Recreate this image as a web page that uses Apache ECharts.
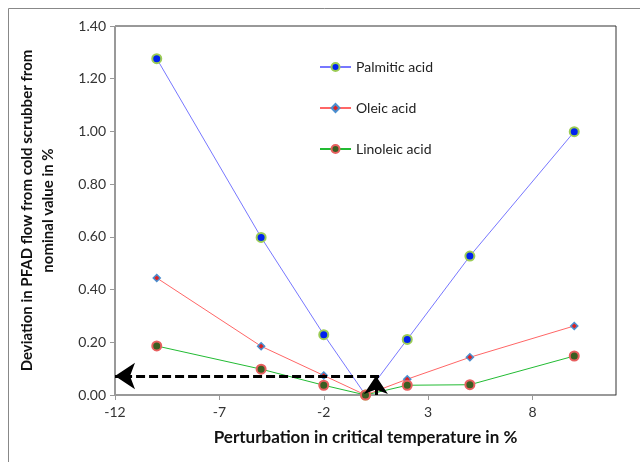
<!DOCTYPE html>
<html><head><meta charset="utf-8">
<script src="https://cdn.jsdelivr.net/npm/echarts@6/dist/echarts.min.js"></script>
<style>html,body{margin:0;padding:0;background:#fff}#c{width:640px;height:462px}</style>
</head><body><div id="c"></div>
<script>
const xValues = [-10, -5, -2, 0, 2, 5, 10];
const palmitic = [1.276, 0.598, 0.229, 0.0, 0.211, 0.527, 0.999];
const oleic = [0.444, 0.185, 0.074, 0.0, 0.060, 0.143, 0.262];
const linoleic = [0.186, 0.098, 0.037, 0.0, 0.037, 0.039, 0.148];
const seriesNames = ['Palmitic acid', 'Oleic acid', 'Linoleic acid'];
const xTitle = 'Perturbation in critical temperature in %';
const yTitle = 'Deviation in PFAD flow from cold scrubber from\nnominal value in %';
const hArrow = [[0.65, 0.072], [-12, 0.072]];
const vArrow = [[0.5, 0.0], [0.5, 0.072]];

const font = 'Lato, "Open Sans", sans-serif';
const pairs = v => xValues.map((x, i) => [x, v[i]]);
const chart = echarts.init(document.getElementById('c'), null, {renderer: 'canvas'});
chart.setOption({
  animation: false,
  backgroundColor: '#fff',
  textStyle: {fontFamily: font},
  graphic: [{type: 'rect', shape: {x: 8.5, y: 8.5, width: 640, height: 460}, style: {fill: 'none', stroke: '#888', lineWidth: 1}, silent: true}],
  grid: {left: 115, right: 24, top: 26, bottom: 67, show: true, borderColor: '#333', borderWidth: 1},
  legend: {
    orient: 'vertical', left: 314, top: 55, itemWidth: 31, itemHeight: 10, itemGap: 27,
    textStyle: {fontFamily: font, fontSize: 14, color: '#222'},
    data: seriesNames
  },
  xAxis: {
    type: 'value', min: -12, max: 12, interval: 5,
    name: xTitle, nameLocation: 'middle', nameGap: 34,
    nameTextStyle: {fontFamily: font, fontSize: 17, fontWeight: 'bold', color: '#111'},
    axisLine: {onZero: false, lineStyle: {color: '#999'}},
    axisTick: {length: 5, lineStyle: {color: '#999'}},
    axisLabel: {showMaxLabel: false, fontSize: 14, color: '#333', margin: 10},
    splitLine: {show: false}
  },
  yAxis: {
    type: 'value', min: 0, max: 1.4, interval: 0.2,
    name: yTitle, nameLocation: 'middle', nameGap: 56,
    nameTextStyle: {fontFamily: font, fontSize: 15, fontWeight: 'bold', color: '#111', lineHeight: 21},
    axisLine: {show: true, onZero: false, lineStyle: {color: '#999'}},
    axisTick: {show: true, length: 5, lineStyle: {color: '#999'}},
    axisLabel: {formatter: v => v.toFixed(2), fontSize: 14, color: '#333', margin: 9},
    splitLine: {show: false}
  },
  series: [
    {
      name: seriesNames[0], type: 'line', data: pairs(palmitic),
      symbol: 'circle', symbolSize: 9,
      lineStyle: {color: '#7777ff', width: 1},
      itemStyle: {color: '#0022ee', borderColor: '#9ccc55', borderWidth: 2},
      z: 3
    },
    {
      name: seriesNames[1], type: 'line', data: pairs(oleic),
      symbol: 'diamond', symbolSize: 7,
      lineStyle: {color: '#ff6666', width: 1},
      itemStyle: {color: '#dd2222', borderColor: '#4a8fd0', borderWidth: 1.5},
      z: 3
    },
    {
      name: seriesNames[2], type: 'line', data: pairs(linoleic),
      symbol: 'circle', symbolSize: 9,
      lineStyle: {color: '#22bb33', width: 1},
      itemStyle: {color: '#3b5e22', borderColor: '#e86060', borderWidth: 2},
      z: 3,
      markLine: {
        silent: true, animation: false, z: 5,
        label: {show: false},
        data: [
          [{coord: hArrow[0], symbol: 'none', lineStyle: {type: [9, 4], color: '#000', width: 3}},
           {coord: hArrow[1], symbol: 'arrow', symbolSize: [20, 20]}],
          [{coord: vArrow[0], symbol: 'none', lineStyle: {type: 'solid', color: '#000', width: 3}},
           {coord: vArrow[1], symbol: 'arrow', symbolSize: [18, 18]}]
        ]
      }
    }
  ]
});
</script></body></html>
